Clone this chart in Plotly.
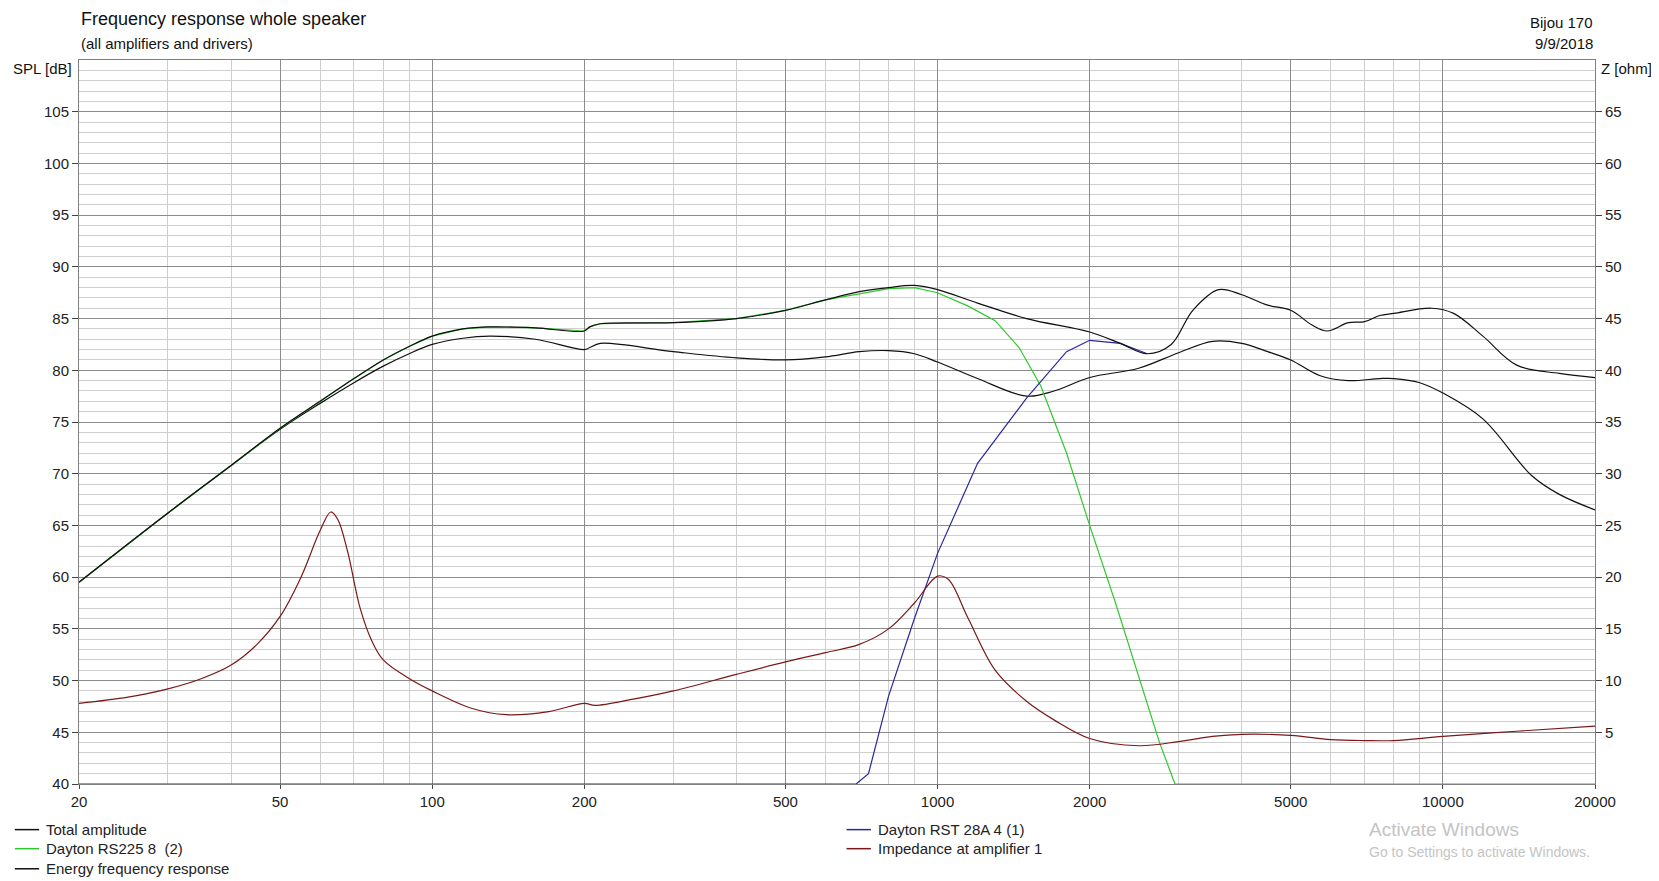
import plotly.graph_objects as go

# --- data ---
total_f = [20, 30, 40, 50, 60, 70, 80, 90, 100, 115, 130, 160, 200, 205, 215, 300, 400, 500, 600, 700, 800, 900, 1000,
           1200, 1500, 2000, 2300, 2600, 2900, 3200, 3600, 4000, 4500, 5000, 5500, 5900, 6500, 7000, 7500, 8000,
           9500, 10500, 12000, 14000, 17000, 20000]
total_db = [59.5, 66.2, 70.8, 74.4, 77.0, 79.2, 81.0, 82.3, 83.3, 84.0, 84.2, 84.1, 83.8, 84.2, 84.5, 84.6, 85.0, 85.8,
            86.8, 87.6, 88.0, 88.2, 87.8, 86.5, 85.0, 83.7, 82.6, 81.6, 82.5, 85.8, 87.8, 87.3, 86.3, 85.8, 84.4, 83.8,
            84.6, 84.7, 85.3, 85.5, 86.0, 85.5, 83.3, 80.5, 79.7, 79.3]

energy_f = [20, 30, 40, 50, 60, 70, 80, 90, 100, 115, 130, 160, 200, 205, 215, 300, 400, 500, 600, 700, 800, 900, 1000,
            1200, 1500, 1700, 2000, 2500, 3000, 3500, 4000, 4500, 5000, 5700, 6500, 7500, 8000, 9000, 10000, 12000,
            15000, 17000, 20000]
energy_db = [59.5, 66.2, 70.8, 74.3, 76.8, 78.8, 80.4, 81.6, 82.5, 83.1, 83.3, 83.0, 82.0, 82.2, 82.6, 81.8, 81.2, 81.0,
             81.3, 81.8, 81.9, 81.6, 80.8, 79.2, 77.5, 78.0, 79.3, 80.2, 81.7, 82.8, 82.6, 81.8, 81.0, 79.5, 79.0,
             79.2, 79.2, 78.8, 77.8, 75.3, 69.8, 68.0, 66.5]

woofer_f = [20, 30, 40, 50, 60, 70, 80, 90, 100, 115, 130, 160, 200, 205, 215, 300, 400, 500, 600, 700, 800, 900, 1000,
            1150, 1300, 1450, 1600, 1800, 2000, 2250, 2500, 2750, 2950, 20000]
woofer_db = [59.5, 66.2, 70.8, 74.4, 77.0, 79.2, 81.0, 82.3, 83.3, 84.0, 84.2, 84.1, 83.8, 84.2, 84.5, 84.6, 85.0, 85.8,
             86.8, 87.4, 87.9, 88.0, 87.5, 86.2, 84.8, 82.2, 78.5, 72.0, 65.0, 57.5, 50.5, 44.0, 40.0, 40.0]

tweeter_f = [20, 690, 730, 800, 900, 1000, 1200, 1500, 1800, 2000, 2300, 2600]
tweeter_db = [40.0, 40.0, 41.0, 48.5, 56.0, 62.3, 71.0, 77.3, 81.8, 82.9, 82.6, 81.6]

imp_f = [20, 25, 30, 35, 40, 45, 50, 55, 60, 63, 65, 68, 72, 76, 80, 90, 100, 120, 140, 170, 200, 210, 250, 300, 400,
         500, 600, 700, 800, 900, 1000, 1050, 1150, 1300, 1500, 1700, 2000, 2500, 3000, 3500, 4000, 5000, 6000, 7000,
         8000, 10000, 14000, 20000]
imp_ohm = [7.8, 8.4, 9.2, 10.2, 11.5, 13.5, 16.2, 20.0, 24.5, 26.3, 25.6, 22.5, 17.0, 13.8, 12.0, 10.2, 9.0, 7.3, 6.7,
           7.0, 7.8, 7.6, 8.2, 9.0, 10.6, 11.8, 12.7, 13.5, 15.0, 17.5, 20.1, 19.8, 16.0, 11.0, 8.0, 6.2, 4.4, 3.7,
           4.1, 4.6, 4.8, 4.7, 4.3, 4.2, 4.2, 4.6, 5.1, 5.6]

x_ticks = [20, 50, 100, 200, 500, 1000, 2000, 5000, 10000, 20000]
x_minor = [d * m for d in (10, 100, 1000, 10000) for m in range(1, 10) if 20 <= d * m <= 20000]
spl_ticks = [40, 45, 50, 55, 60, 65, 70, 75, 80, 85, 90, 95, 100, 105]
z_ticks = [5, 10, 15, 20, 25, 30, 35, 40, 45, 50, 55, 60, 65]

FONT = "Liberation Sans"
C_BLACK = "#101010"
C_GREEN = "#2ec82e"
C_BLUE = "#2828a0"
C_RED = "#7a1818"

W, H = 1650, 872
ML, MR, MT, MB = 71, 63, 52, 96
PW, PH = W - ML - MR, H - MT - MB
SCALE = 0.945  # reference image pixels per figure pixel


def px(d):  # reference x (from left) -> paper x
    return (d / SCALE - 8 - ML) / PW


def py(d):  # reference y (from top) -> paper y
    return (H - (d / SCALE - 8) - MB) / PH


fig = go.Figure()
fig.add_trace(go.Scatter(x=energy_f, y=energy_db, mode="lines", line=dict(color=C_BLACK, width=1.2),
                         line_shape="spline", name="Energy frequency response"))
fig.add_trace(go.Scatter(x=woofer_f, y=woofer_db, mode="lines", line=dict(color=C_GREEN, width=1.2),
                         name="Dayton RS225 8  (2)"))
fig.add_trace(go.Scatter(x=tweeter_f, y=tweeter_db, mode="lines", line=dict(color=C_BLUE, width=1.2),
                         name="Dayton RST 28A 4 (1)"))
fig.add_trace(go.Scatter(x=total_f, y=total_db, mode="lines", line=dict(color=C_BLACK, width=1.2),
                         line_shape="spline", name="Total amplitude"))
fig.add_trace(go.Scatter(x=imp_f, y=imp_ohm, mode="lines", line=dict(color=C_RED, width=1.2),
                         line_shape="spline", name="Impedance at amplifier 1", yaxis="y2"))

fig.update_layout(
    width=W, height=H,
    paper_bgcolor="white", plot_bgcolor="white",
    margin=dict(l=ML, r=MR, t=MT, b=MB),
    showlegend=False,
    font=dict(family=FONT, size=15, color="#222"),
    xaxis=dict(type="log", range=[1.30103, 4.30103], tickvals=x_ticks, ticktext=[str(v) for v in x_ticks],
               showgrid=True, gridcolor="#8c8c8c", gridwidth=1, ticks="outside", ticklen=4,
               minor=dict(tickvals=x_minor, showgrid=True, gridcolor="#cfcfcf", ticks=""),
               showline=True, linecolor="#808080", mirror=True, zeroline=False),
    yaxis=dict(range=[40, 110], tickvals=spl_ticks, showgrid=True, gridcolor="#8c8c8c", ticks="outside",
               ticklen=6, minor=dict(dtick=1, showgrid=True, gridcolor="#cfcfcf", ticks=""),
               showline=True, linecolor="#808080", zeroline=False),
    yaxis2=dict(range=[0, 70], tickvals=z_ticks, overlaying="y", side="right", showgrid=False,
                ticks="outside", ticklen=6, showline=True, linecolor="#808080", zeroline=False),
)

ann = [
    (75, 18, "Frequency response whole speaker", 18, "left"),
    (75, 41, "(all amplifiers and drivers)", 15, "left"),
    (1507, 21, "Bijou 170", 15, "right"),
    (1507, 41, "9/9/2018", 15, "right"),
    (70, 65, "SPL [dB]", 15, "right"),
    (1511, 65, "Z [ohm]", 15, "left"),
]
for ax_, ay_, txt, size, anchor in ann:
    fig.add_annotation(x=px(ax_), y=py(ay_), xref="paper", yref="paper", showarrow=False,
                       text=txt, xanchor=anchor, yanchor="middle",
                       font=dict(size=size, color="#111", family=FONT))

# legend drawn below the plot in two columns
legend_items = [
    (14, 784, C_BLACK, "Total amplitude"),
    (14, 802, C_GREEN, "Dayton RS225 8  (2)"),
    (14, 821, C_BLACK, "Energy frequency response"),
    (800, 784, C_BLUE, "Dayton RST 28A 4 (1)"),
    (800, 802, C_RED, "Impedance at amplifier 1"),
]
for lx, ly, col, label in legend_items:
    fig.add_shape(type="line", xref="paper", yref="paper", x0=px(lx), x1=px(lx + 23),
                  y0=py(ly), y1=py(ly), line=dict(color=col, width=1.5))
    fig.add_annotation(x=px(lx + 28), y=py(ly), xref="paper", yref="paper", showarrow=False,
                       text=label, xanchor="left", yanchor="middle", font=dict(size=15, color="#222", family=FONT))

fig.add_annotation(x=px(1292), y=py(784), xref="paper", yref="paper", showarrow=False, text="Activate Windows",
                   xanchor="left", yanchor="middle", font=dict(size=19, color="#c4c4c4", family=FONT))
fig.add_annotation(x=px(1292), y=py(805), xref="paper", yref="paper", showarrow=False,
                   text="Go to Settings to activate Windows.", xanchor="left", yanchor="middle",
                   font=dict(size=14, color="#c4c4c4", family=FONT))

fig.write_html("out.html")
